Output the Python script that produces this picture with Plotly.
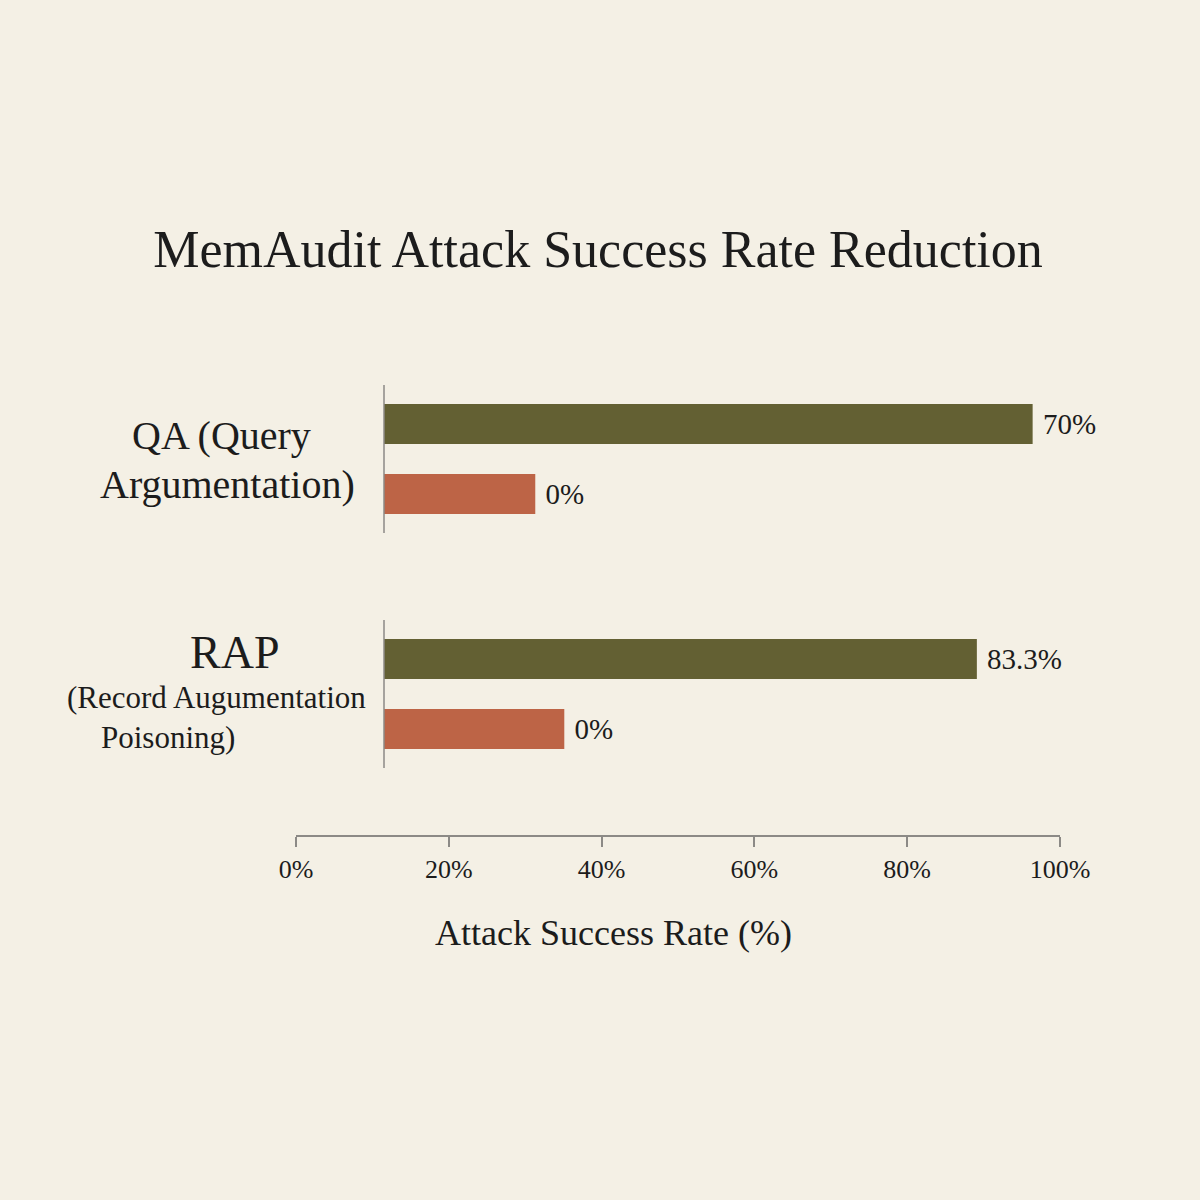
import plotly.graph_objects as go

# data
categories = ["QA", "RAP"]
series_names = ["Baseline", "MemAudit"]
baseline_bar = [84.9, 77.6]   # drawn bar lengths (% of axis)
memaudit_bar = [19.8, 23.6]
baseline_text = ["70%", "83.3%"]
memaudit_text = ["0%", "0%"]
tick_vals = [0, 20, 40, 60, 80, 100]
tick_text = ["0%", "20%", "40%", "60%", "80%", "100%"]

W = 1200
H = 1200
FONT = "Liberation Serif"
INK = "#1c1c1c"
AXIS_GREY = "#8c8a86"
BG = "#f4f0e5"
OLIVE = "#636033"
RUST = "#bd6446"


def px_x(p):
    return p / W


def px_y(p):
    return 1 - p / H


fig = go.Figure()

fig.add_trace(go.Bar(
    y=categories, x=baseline_bar, name=series_names[0], orientation="h",
    marker=dict(color=OLIVE, line=dict(width=0)),
    text=baseline_text, texttemplate="\u00a0%{text}",
    textposition="outside", cliponaxis=False,
    textfont=dict(family=FONT, size=29, color=INK),
))
fig.add_trace(go.Bar(
    y=categories, x=memaudit_bar, name=series_names[1], orientation="h",
    marker=dict(color=RUST, line=dict(width=0)),
    text=memaudit_text, texttemplate="\u00a0%{text}",
    textposition="outside", cliponaxis=False,
    textfont=dict(family=FONT, size=29, color=INK),
))
# empty trace so the percentage axis gets drawn
fig.add_trace(go.Scatter(x=[], y=[], xaxis="x2", yaxis="y",
                         hoverinfo="skip", showlegend=False))

# short axis line segments next to each group
shapes = []
for i in range(len(categories)):
    shapes.append(dict(
        type="line", xref="paper", yref="y",
        x0=px_x(384), x1=px_x(384), y0=i - 0.315, y1=i + 0.315,
        line=dict(color=AXIS_GREY, width=1.5),
    ))


def label(text, x, cat, shift, size):
    return dict(text=text, xref="paper", yref="y", x=px_x(x), y=cat,
                yshift=shift, xanchor="center", yanchor="middle",
                showarrow=False, font=dict(family=FONT, size=size, color=INK))


annotations = [
    label("QA (Query", 221, "QA", 24, 40),
    label("Argumentation)", 227, "QA", -25, 40),
    label("RAP", 234, "RAP", 42, 46),
    label("(Record Augumentation", 216, "RAP", -3, 31),
    label("Poisoning)", 168, "RAP", -43, 31),
    dict(text="Attack Success Rate (%)", xref="paper", yref="paper",
         x=px_x(613), y=px_y(933), xanchor="center", yanchor="middle",
         showarrow=False, font=dict(family=FONT, size=36, color=INK)),
]

fig.update_layout(
    width=W, height=H, autosize=False,
    margin=dict(l=0, r=0, t=0, b=0, autoexpand=False),
    paper_bgcolor=BG, plot_bgcolor="rgba(0,0,0,0)",
    showlegend=False,
    barmode="group", bargap=0.404, bargroupgap=0.43,
    title=dict(text="MemAudit Attack Success Rate Reduction",
               x=px_x(598), xanchor="center", y=px_y(249), yanchor="middle",
               font=dict(family=FONT, size=52, color=INK)),
    xaxis=dict(domain=[px_x(384), px_x(1148)], range=[0, 100], visible=False,
               automargin=False),
    yaxis=dict(domain=[px_y(811.5), px_y(341.5)], range=[1.5, -0.5],
               categoryorder="array", categoryarray=categories, visible=False,
               automargin=False),
    xaxis2=dict(domain=[px_x(296), px_x(1060)], range=[0, 100],
                anchor="free", position=px_y(836), automargin=False,
                showline=True, linecolor=AXIS_GREY, linewidth=1.5,
                ticks="outside", ticklen=10, tickcolor=AXIS_GREY, tickwidth=1.5,
                tickvals=tick_vals, ticktext=tick_text,
                tickfont=dict(family=FONT, size=26, color=INK),
                showgrid=False, zeroline=False),
    shapes=shapes,
    annotations=annotations,
)

fig.write_html("out.html", config={"displayModeBar": False},
               post_script="document.body.style.margin='0';"
                           "document.body.style.background='#f4f0e5';")
